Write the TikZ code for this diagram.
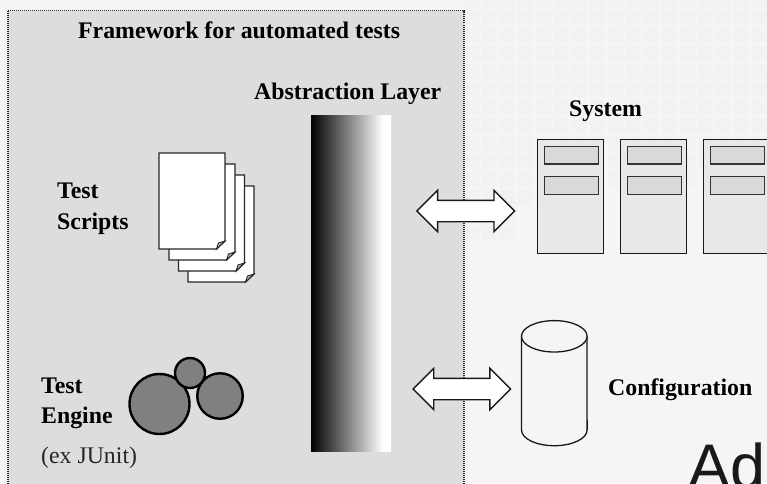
\documentclass[tikz,border=0pt]{standalone}
\usepackage{fontspec}
\setmainfont{Liberation Serif}
\newfontfamily\adfont{Liberation Sans}
\usetikzlibrary{shapes.arrows}
\definecolor{bgc}{HTML}{F6F5F3}
\definecolor{cellc}{HTML}{F3F2F0}
\definecolor{panelc}{HTML}{DDDDDD}
\definecolor{foldc}{HTML}{B4B4B4}
\pgfdeclarehorizontalshading{barshade}{100bp}{color(0bp)=(black); color(25bp)=(black); color(50bp)=(black!45); color(70bp)=(white); color(100bp)=(white)}
\tikzset{
  lbl/.style={anchor=base west,inner sep=0pt,font=\fontsize{23.8}{24}\selectfont\bfseries,text=black},
  lblplain/.style={anchor=base west,inner sep=0pt,font=\fontsize{23.8}{24}\selectfont,text=black!85},
  dblarrow/.style={shape=double arrow,draw=black!90,fill=white,line width=1.4pt,inner xsep=0pt,inner ysep=10pt,outer sep=0pt,
    double arrow head extend=10pt,double arrow tip angle=90},
  sheet/.style={draw=black!85,fill=white,line width=1.4pt,line join=miter},
  fold/.style={draw=black!85,fill=foldc,line width=0.9pt},
  tower/.style={draw=black!90,fill=black!9,line width=1pt,rectangle,inner sep=0pt,outer sep=0pt,minimum width=66pt,minimum height=114pt},
  slotbox/.style={draw=black!80,fill=black!15,line width=1.2pt,rectangle,inner sep=0pt,outer sep=0pt,minimum width=54pt,minimum height=17.5pt},
  gear/.style={draw=black,fill=black!50,line width=2.4pt,circle,inner sep=0pt,outer sep=0pt},
}
\newcommand{\pagesheet}[2]{%
  \draw[sheet] (#1,#2) -- ++(66,0) -- ++(0,88) -- ++(-8.5,8) -- ++(-57.5,0) -- cycle;
  \draw[fold] (#1+66,#2+88) -- ++(-6.5,2) -- ++(-2,6) -- cycle;
}
\begin{document}
\begin{tikzpicture}[x=1pt,y=-1pt]
\useasboundingbox (0,0) rectangle (767,483);
\begin{scope}
\clip (0,0) rectangle (767,483);
\fill[bgc] (0,0) rectangle (767,483);
% faint background grid
\foreach \j in {-1,0,...,8}{\foreach \i in {0,...,16}{
  \fill[cellc] ({464+18*\i},{10+18*\j}) rectangle ++(15,15);}}
\foreach \i in {0,...,12}{\fill[cellc] ({464+18*\i},{172}) rectangle ++(15,15);}
\foreach \i in {0,...,7}{\fill[cellc] ({464+18*\i},{190}) rectangle ++(15,15);}
\foreach \i in {0,1,2}{\fill[cellc] ({464+18*\i},{208}) rectangle ++(15,15);
  \fill[cellc] ({464+18*\i},{226}) rectangle ++(15,15);}
% framework panel
\draw[draw=black!85,fill=panelc,line width=1.2pt,dash pattern=on 1pt off 1pt] (8,10.5) rectangle (464,500);
% large background word
\node[anchor=base west,inner sep=0pt,font=\adfont\fontsize{63}{63}\selectfont,text=black!90] (ad) at (688,488) {Ad};
\end{scope}

\node[lbl] (title) at (78,38) {Framework for automated tests};
\node[lbl] (abs) at (254,99) {Abstraction Layer};
\node[lbl] (sys) at (569,116) {System};
\node[lbl] (conf) at (608,395) {Configuration};
\node[lbl] (ts1) at (57,198) {Test};
\node[lbl] (ts2) at (57,229) {Scripts};
\node[lbl] (te1) at (41,393) {Test};
\node[lbl] (te2) at (41,423) {Engine};
\node[lblplain] (ex) at (41,463) {(ex JUnit)};

% abstraction layer
\node[rectangle,inner sep=0pt,outer sep=0pt,minimum width=80pt,minimum height=336pt,shading=barshade] (bar) at (351,283) {};

% script pages
\pagesheet{188}{186}
\pagesheet{178.5}{175}
\pagesheet{169}{164}
\pagesheet{159}{153}

% test engine
\node[gear,minimum size=60pt] (g1) at (159.5,404) {};
\node[gear,minimum size=45.5pt] (g2) at (220,396) {};
\node[gear,minimum size=30pt] (g3) at (190,373) {};

% system
\foreach \n/\x in {a/570.3,b/653.3,c/736.3}{
  \node[tower] (t\n) at (\x,196) {};
  \node[slotbox] (s\n1) at (\x+1.2,155.3) {};
  \node[slotbox] (s\n2) at (\x+1.2,185.5) {};
}

% configuration store
\draw[draw=black!90,fill=bgc,line width=1.3pt] (521.5,336.3) -- (521.5,430) arc[start angle=180,end angle=360,x radius=32.8,y radius=-15.7] -- (587,336.3);
\draw[draw=black!90,fill=bgc,line width=1.3pt] (554.3,336.3) ellipse[x radius=32.8,y radius=15.7];

% arrows
\node[dblarrow,minimum height=97.7pt] (arr1) at (465.8,211) {};
\node[dblarrow,minimum height=97.5pt] (arr2) at (461.8,389) {};
\end{tikzpicture}
\end{document}
